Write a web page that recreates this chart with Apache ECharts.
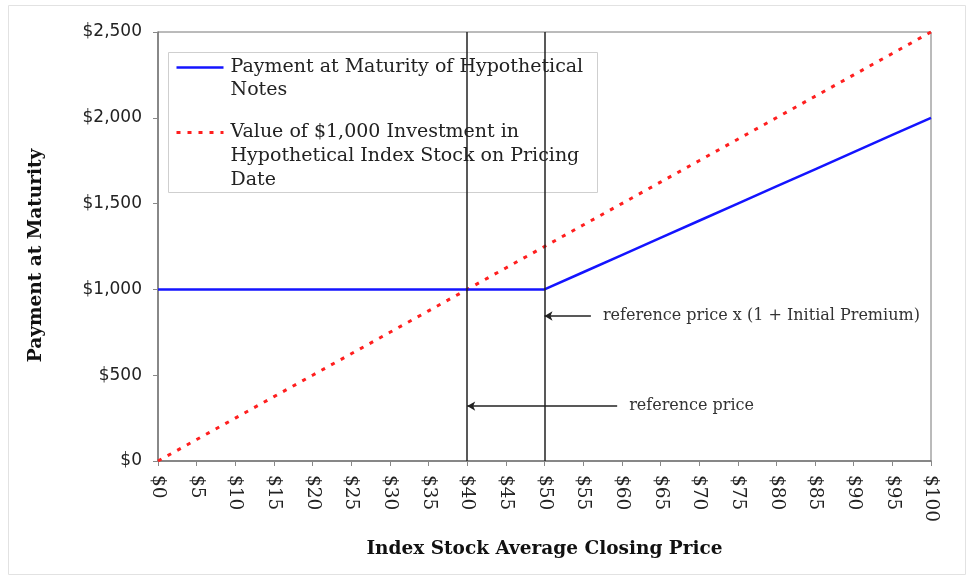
<!DOCTYPE html>
<html>
<head>
<meta charset="utf-8">
<script src="https://cdn.jsdelivr.net/npm/echarts@6/dist/echarts.min.js"></script>
<style>
  html, body { margin: 0; padding: 0; background: #fff; }
  #chart { width: 969px; height: 575px; }
</style>
</head>
<body>
<div id="chart"></div>
<script>
// ---- data ----
const prices = [0, 5, 10, 15, 20, 25, 30, 35, 40, 45, 50, 55, 60, 65, 70, 75, 80, 85, 90, 95, 100]
// payment at maturity of the hypothetical notes
const notePayment = [1000, 1000, 1000, 1000, 1000, 1000, 1000, 1000, 1000, 1000, 1000,
  1100, 1200, 1300, 1400, 1500, 1600, 1700, 1800, 1900, 2000]
// value of $1,000 invested in the index stock
const stockValue = [0, 125, 250, 375, 500, 625, 750, 875, 1000, 1125, 1250,
  1375, 1500, 1625, 1750, 1875, 2000, 2125, 2250, 2375, 2500]
const seriesNames = [
  'Payment at Maturity of Hypothetical\nNotes',
  'Value of $1,000 Investment in\nHypothetical Index Stock on Pricing\nDate'
]
// reference price / reference price x (1 + premium)
const refPrices = [40, 50]
// arrow annotations: [from x, to x, y, text]
const arrows = [
  [56, 50, 845, 'reference price x (1 + Initial Premium)'],
  [59.4, 40, 320, 'reference price']
]

const SERIF = '"DejaVu Serif", "Liberation Serif", serif'
const SANS = '"DejaVu Sans", Verdana, sans-serif'
const BLUE = '#1414ff'
const RED = '#ff1f1f'

const chart = echarts.init(document.getElementById('chart'))

const pairs = (ys) => prices.map((p, i) => [p, ys[i]])

const option = {
  animation: false,
  backgroundColor: '#fff',
  grid: {
    left: 158, right: 38, top: 32, bottom: 114,
    show: true, borderColor: '#777', borderWidth: 1
  },
  xAxis: {
    type: 'value',
    min: 0, max: 100, interval: 5,
    name: 'Index Stock Average Closing Price',
    nameLocation: 'middle',
    nameGap: 79,
    nameTextStyle: { fontFamily: SERIF, fontWeight: 'bold', fontSize: 18.5, color: '#111' },
    axisLine: { lineStyle: { color: '#777', width: 1.5 } },
    axisTick: { show: true, length: 5, lineStyle: { color: '#888' } },
    splitLine: { show: false },
    axisLabel: {
      rotate: -90, margin: 14,
      fontFamily: SERIF, fontSize: 18.5, color: '#222',
      formatter: (v) => '$' + v
    }
  },
  yAxis: {
    type: 'value',
    min: 0, max: 2500, interval: 500,
    name: 'Payment at Maturity',
    nameLocation: 'middle',
    nameGap: 112,
    // right padding nudges the rotated title a little lower
    nameTextStyle: { fontFamily: SERIF, fontWeight: 'bold', fontSize: 18.5, color: '#111', padding: [0, 18, 0, 0] },
    axisLine: { show: true, lineStyle: { color: '#777', width: 1.5 } },
    axisTick: { show: true, length: 5, lineStyle: { color: '#888' } },
    splitLine: { show: false },
    axisLabel: {
      margin: 16,
      fontFamily: SANS, fontSize: 17, color: '#222',
      formatter: (v) => '$' + v.toLocaleString('en-US')
    }
  },
  series: [
    {
      name: seriesNames[0],
      type: 'line',
      data: pairs(notePayment),
      showSymbol: false,
      symbol: 'none',
      lineStyle: { color: BLUE, width: 2.5 },
      z: 3,
      // vertical reference lines
      markLine: {
        silent: true,
        symbol: 'none',
        animation: false,
        lineStyle: { color: '#222', width: 1.5, type: 'solid' },
        label: { show: false },
        data: refPrices.map((x) => ({ xAxis: x }))
      }
    },
    {
      name: seriesNames[1],
      type: 'line',
      data: pairs(stockValue),
      showSymbol: false,
      symbol: 'none',
      lineStyle: { color: RED, width: 3, type: [4, 7] },
      z: 2,
      // arrow notes
      markLine: {
        silent: true,
        animation: false,
        symbol: ['none', 'arrow'],
        symbolSize: [7, 8],
        lineStyle: { color: '#222', width: 1.5, type: 'solid' },
        label: {
          show: true,
          position: 'start',
          distance: 12,
          fontFamily: SERIF, fontSize: 16, color: '#333'
        },
        data: arrows.map((a) => [
          { coord: [a[0], a[2]], label: { formatter: a[3] } },
          { coord: [a[1], a[2]] }
        ])
      }
    }
  ],
  // legend box drawn by hand so the icon lines up with the first text line
  graphic: [
    {
      type: 'rect', left: 6, top: 3,
      shape: { width: 957, height: 569 },
      style: { fill: 'none', stroke: '#e2e2e2', lineWidth: 1 },
      silent: true
    },
    {
      type: 'group', left: 168, top: 52,
      children: [
        { type: 'rect', shape: { x: 0, y: 0, width: 429, height: 140 },
          style: { fill: '#fff', stroke: '#cfcfcf', lineWidth: 1 } },
        { type: 'line', shape: { x1: 8, y1: 15, x2: 55, y2: 15 },
          style: { stroke: BLUE, lineWidth: 2.5 } },
        { type: 'text', x: 62, y: 3,
          style: { text: seriesNames[0], fontFamily: SERIF, fontSize: 19, lineHeight: 23, fill: '#222' } },
        { type: 'line', shape: { x1: 8, y1: 80, x2: 55, y2: 80 },
          style: { stroke: RED, lineWidth: 3, lineDash: [4, 7] } },
        { type: 'text', x: 62, y: 68,
          style: { text: seriesNames[1], fontFamily: SERIF, fontSize: 19, lineHeight: 24, fill: '#222' } }
      ],
      z: 10
    }
  ]
}

chart.setOption(option)
</script>
</body>
</html>
